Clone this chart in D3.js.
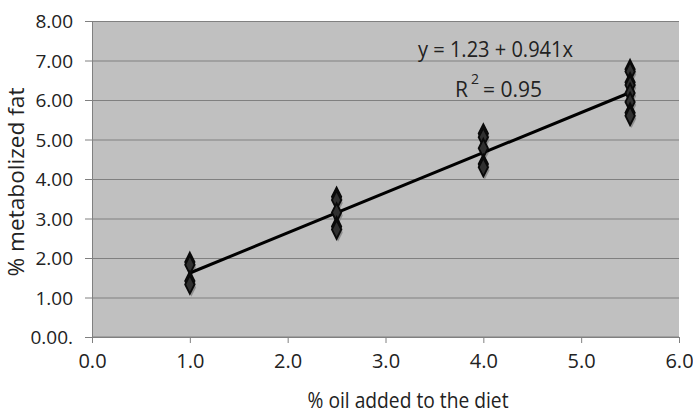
<!DOCTYPE html>
<html>
<head>
<meta charset="utf-8">
<script src="https://cdn.jsdelivr.net/npm/d3@7"></script>
<style>
  html, body { margin: 0; padding: 0; background: #fff; }
  svg text { font-family: "Open Sans", "DejaVu Sans", sans-serif; fill: #222; }
</style>
</head>
<body>
<svg id="chart" width="693" height="415"></svg>
<script>
// data
const oilLevels = [1.0, 2.5, 4.0, 5.5];
const fatAt1 = [1.90, 1.83, 1.42, 1.33];
const fatAt25 = [3.55, 3.47, 3.15, 2.80, 2.72];
const fatAt4 = [5.15, 5.06, 4.78, 4.38, 4.30];
const fatAt55 = [6.78, 6.72, 6.45, 6.38, 6.18, 5.95, 5.68, 5.60];
const trendX = [1.0, 5.5];
const trendY = [1.62, 6.19];
const xTicks = [0, 1, 2, 3, 4, 5, 6];
const yTicks = [0, 1, 2, 3, 4, 5, 6, 7, 8];
const yTickLabels = ["0.00.", "1.00", "2.00", "3.00", "4.00", "5.00", "6.00", "7.00", "8.00"];

const groups = [fatAt1, fatAt25, fatAt4, fatAt55];
const points = [];
groups.forEach((vals, i) => vals.forEach(v => points.push({ x: oilLevels[i], y: v })));

const plot = { left: 92, right: 679, top: 21, bottom: 337 };
const svg = d3.select("#chart");

const x = d3.scaleLinear().domain([0, 6]).range([plot.left, plot.right]);
const y = d3.scaleLinear().domain([0, 8]).range([plot.bottom, plot.top]);

// plot area
svg.append("rect")
    .attr("x", plot.left).attr("y", plot.top)
    .attr("width", plot.right - plot.left).attr("height", plot.bottom - plot.top)
    .attr("fill", "#c0c0c0");

// horizontal gridlines + left ticks
const yAxis = d3.axisLeft(y).tickValues(yTicks)
    .tickSize(-(plot.right - plot.left))
    .tickFormat((d, i) => yTickLabels[i]);
const gy = svg.append("g").attr("transform", `translate(${plot.left},0)`).call(yAxis);
gy.select(".domain").attr("stroke", "#808080");
gy.selectAll(".tick line").attr("stroke", "#808080").attr("x1", -7);
gy.selectAll(".tick text")
    .attr("x", -19).attr("dy", "0.35em")
    .style("font-size", "19px").attr("fill", "#222");

// bottom axis
const xAxis = d3.axisBottom(x).tickValues(xTicks).tickSize(6).tickFormat(d3.format(".1f"));
const gx = svg.append("g").attr("transform", `translate(0,${plot.bottom})`).call(xAxis);
gx.select(".domain").attr("stroke", "#808080").attr("d", `M${plot.left},0H${plot.right}`);
gx.selectAll(".tick line").attr("stroke", "#808080");
gx.selectAll(".tick text")
    .attr("y", 17).attr("dy", "0.71em")
    .style("font-size", "20px").attr("fill", "#222");
svg.selectAll(".domain").attr("fill", "none");

// markers: shadow then diamond
const diamond = d3.symbol().type(d3.symbolDiamond).size(75);
svg.append("g").selectAll("path")
    .data(points).join("path")
    .attr("d", diamond)
    .attr("transform", d => `translate(${x(d.x) + 1.5},${y(d.y) + 3}) scale(1,1.15)`)
    .attr("fill", "#858585").attr("opacity", 0.85);

// trend line
svg.append("line")
    .attr("x1", x(trendX[0])).attr("y1", y(trendY[0]))
    .attr("x2", x(trendX[1])).attr("y2", y(trendY[1]))
    .attr("stroke", "#000").attr("stroke-width", 3);

svg.append("g").selectAll("path")
    .data(points).join("path")
    .attr("d", diamond)
    .attr("transform", d => `translate(${x(d.x)},${y(d.y)}) scale(1,1.15)`)
    .attr("fill", "#303030").attr("stroke", "#0a0a0a").attr("stroke-width", 1.8);

// equation
svg.append("text")
    .attr("x", 418).attr("y", 57)
    .attr("textLength", 155).attr("lengthAdjust", "spacingAndGlyphs")
    .style("font-size", "21px")
    .text("y = 1.23 + 0.941x");
const r2 = svg.append("text").attr("x", 455).attr("y", 97).style("font-size", "21px");
r2.append("tspan").text("R");
r2.append("tspan").attr("dy", -13).style("font-size", "14px").attr("dx", 3).text("2");
r2.append("tspan").attr("dy", 13).attr("dx", 4).text("= 0.95");

// axis titles
svg.append("text")
    .attr("x", 408).attr("y", 408)
    .attr("text-anchor", "middle")
    .attr("textLength", 201).attr("lengthAdjust", "spacingAndGlyphs")
    .style("font-size", "21px")
    .text("% oil added to the diet");

svg.append("text")
    .attr("transform", "translate(24,182) rotate(-90)")
    .attr("text-anchor", "middle")
    .attr("textLength", 189).attr("lengthAdjust", "spacingAndGlyphs")
    .style("font-size", "21px")
    .text("% metabolized fat");
</script>
</body>
</html>
